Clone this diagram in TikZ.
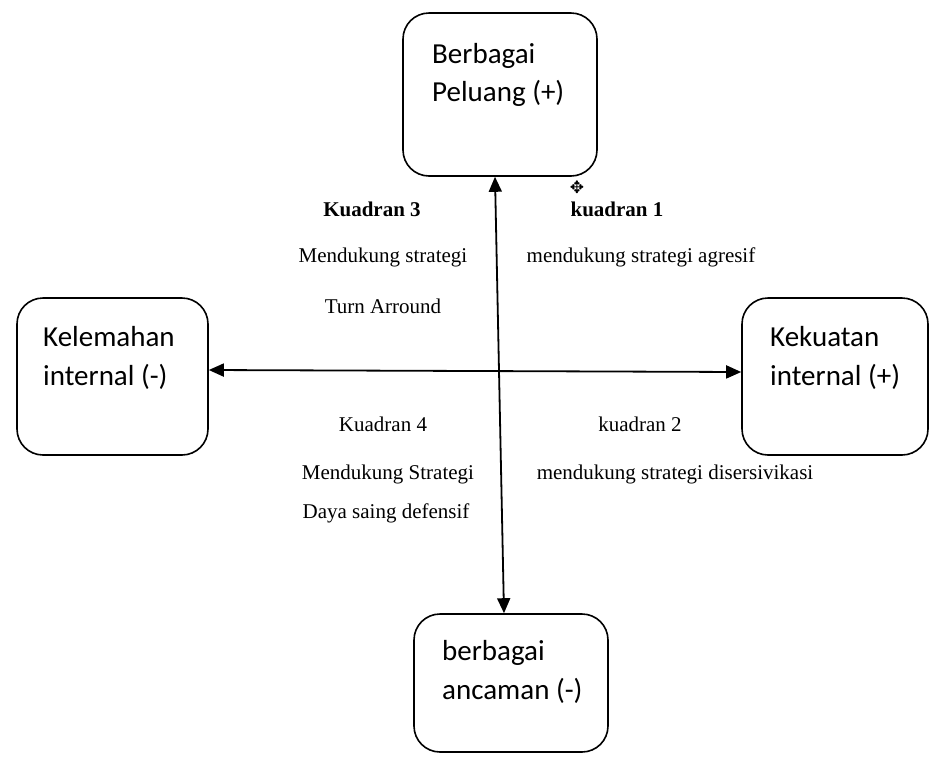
\documentclass[tikz,border=0pt]{standalone}
\usepackage{fontspec}
\setmainfont{Liberation Serif}
\newfontfamily\boxfont{Carlito}
\newfontfamily\symfont{DejaVu Sans}
\usetikzlibrary{arrows.meta}
\begin{document}
\begin{tikzpicture}[x=1pt,y=-1pt,
  quadbox/.style={draw,line width=1.6pt,rounded corners=26pt,rectangle,inner sep=0pt},
  boxlabel/.style={anchor=base west,inner sep=0pt,font=\boxfont\fontsize{29}{35}\selectfont},
  quadtext/.style={anchor=base,inner sep=0pt,font=\fontsize{21}{25}\selectfont},
  biaxis/.style={line width=1.8pt,{Triangle[length=15pt,width=13pt]}-{Triangle[length=15pt,width=13pt]}}]
\useasboundingbox (0,0) rectangle (930,756);
% boxes
\node[quadbox,minimum width=194pt,minimum height=163pt] (top) at (500,94.5) {};
\node[quadbox,minimum width=191pt,minimum height=157pt] (left) at (112.5,376.5) {};
\node[quadbox,minimum width=186pt,minimum height=157pt] (right) at (835,376.5) {};
\node[quadbox,minimum width=194pt,minimum height=138pt] (bottom) at (511,683) {};
% box texts
\node[boxlabel] (t1) at (432,63) {Berbagai};
\node[boxlabel] (t2) at (432,101) {Peluang (+)};
\node[boxlabel] (l1) at (43,346) {Kelemahan};
\node[boxlabel] (l2) at (43,385) {internal (-)};
\node[boxlabel] (r1) at (770,346) {Kekuatan};
\node[boxlabel] (r2) at (770,385) {internal (+)};
\node[boxlabel] (b1) at (442,660) {berbagai};
\node[boxlabel] (b2) at (442,699) {ancaman (-)};
% axes
\draw[biaxis] ([xshift=-5pt]top.south) -- ([xshift=-7pt]bottom.north);
\draw[biaxis] ([yshift=6.5pt]left.east) -- ([yshift=4.5pt]right.west);
% quadrant texts
\node[quadtext,font=\bfseries\fontsize{21}{25}\selectfont] (q3) at (372,216) {Kuadran 3};
\node[quadtext,font=\bfseries\fontsize{21}{25}\selectfont] (q1) at (617,216) {kuadran 1};
\node[quadtext] (q3a) at (383,262) {Mendukung strategi};
\node[quadtext] (q1a) at (641,262) {mendukung strategi agresif};
\node[quadtext] (q3b) at (383,313) {Turn Arround};
\node[quadtext] (q4) at (383,431) {Kuadran 4};
\node[quadtext] (q2) at (640,431) {kuadran 2};
\node[quadtext] (q4a) at (388,479) {Mendukung Strategi};
\node[quadtext] (q2a) at (675,479) {mendukung strategi disersivikasi};
\node[quadtext] (q4b) at (386,518) {Daya saing defensif};
% cursor glyph
\node[inner sep=0pt,font=\symfont\fontsize{17}{17}\selectfont] (cur) at (577,187) {✥};
\end{tikzpicture}
\end{document}
